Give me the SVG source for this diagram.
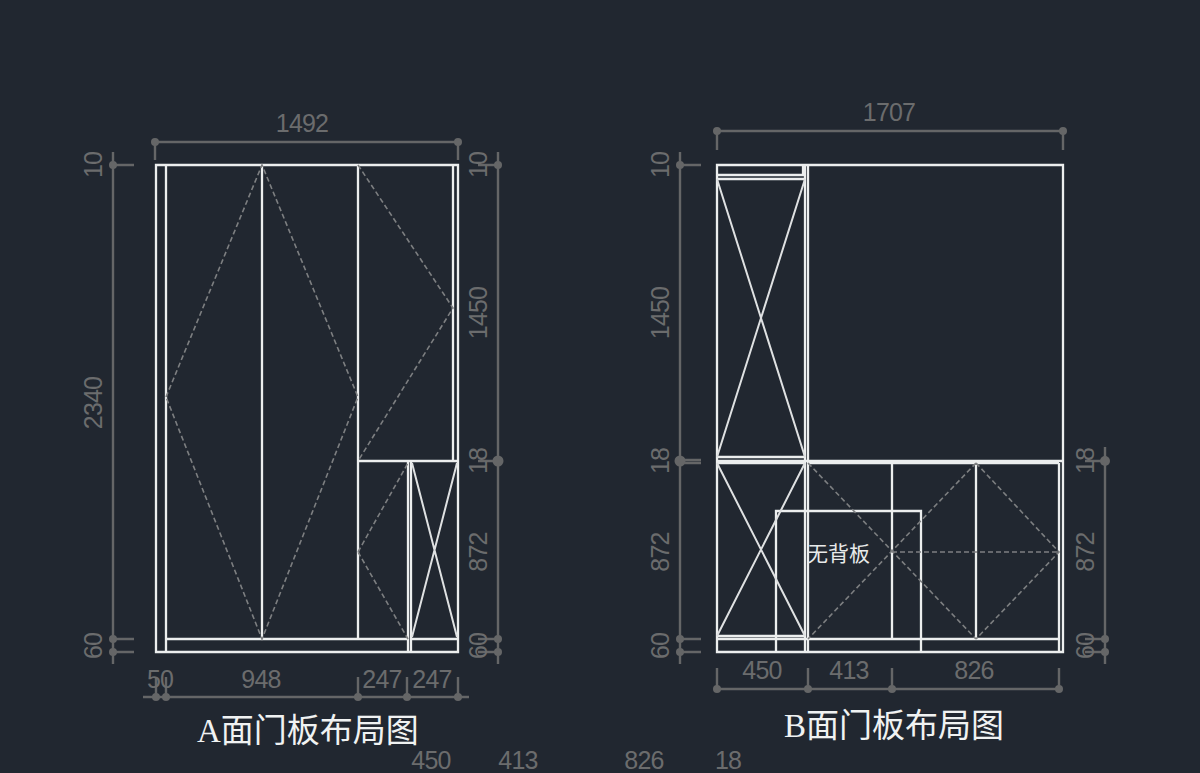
<svg xmlns="http://www.w3.org/2000/svg" width="1200" height="773" viewBox="0 0 1200 773">
<style>
.bg{fill:#212730}
.p{fill:none;stroke:#eceeee;stroke-width:2.3}
.x{fill:none;stroke:#dfe1e2;stroke-width:2}
.d{fill:none;stroke:#7d7f81;stroke-width:1.6;stroke-dasharray:5 3}
.m{fill:none;stroke:#656667;stroke-width:2.4}
.dot{fill:#656667}
text{font-family:"Liberation Sans","Noto Sans CJK SC",sans-serif}
.t{font-size:25px;letter-spacing:-.8px;fill:#6b6c6d;text-anchor:middle;dominant-baseline:central}
.title{font-family:"Liberation Serif","Noto Sans CJK SC",serif;font-size:33px;fill:#f0f2f2}
.note{font-family:"Noto Sans CJK SC",sans-serif;font-size:21px;fill:#e8eaea}
</style>
<rect class="bg" width="1200" height="773"/>
<g id="panel-a">
<path class="p" d="M156 165H458V652H156ZM166 165V652M166 639H408M166 652H408M262 165V639M358 165V639M453 165V461M358 461H458M408 461V652M411 461V652M411 639H458"/>
<path class="x" d="M412 463L457 637M457 463L412 637"/>
<path class="d" d="M166 397L262 165L358 397L262 639ZM358 165L453 308L358 461M358 552L408 463M358 552L408 639"/>
</g>
<g id="panel-b">
<path class="p" d="M717 165H1063V652H717ZM803 165V176M805 165V652M808 165V652M717 175H805M717 179H805M717 457H805M717 461H1063M717 463H805M717 636H805M717 639H1059M892 463V639M976 463V639M1059 463V652M808 463H1059"/>
<path class="p" d="M776 652V511H921V652"/>
<path class="x" d="M717 179L805 457M805 179L717 457M717 463L805 636M805 463L717 636"/>
<path class="d" d="M808 463L976 639M976 463L808 639M976 463L1059 552L976 639M892 552H1059"/>
</g>
<g id="connectors">
<path class="m" d="M155 142H458M155 142V160M458 142V160M113 152V664M113 165H134M113 639H134M113 652H134M498 152V664M478 165H498M478 461H498M478 639H498M478 652H498M143 697H469M156 677V697M166 677V697M358 677V697M407 677V697M458 677V697"/>
<path class="m" d="M717 131H1063M717 131V150M1063 131V150M680 152V664M680 165H701M680 460H701M680 463H701M680 639H701M680 652H701M1105 447V664M1085 461H1105M1085 639H1105M1085 652H1105M717 689H1060M717 668V689M808 668V689M892 668V689M1059 668V689"/>
<g class="dot">
<circle cx="155" cy="142" r="4"/><circle cx="458" cy="142" r="4"/><circle cx="113" cy="165" r="4"/><circle cx="113" cy="639" r="4"/><circle cx="113" cy="652" r="4"/><circle cx="498" cy="165" r="4"/><circle cx="498" cy="461" r="5.5"/><circle cx="498" cy="639" r="4"/><circle cx="498" cy="652" r="4"/><circle cx="156" cy="697" r="4"/><circle cx="166" cy="697" r="4"/><circle cx="358" cy="697" r="4"/><circle cx="407" cy="697" r="4"/><circle cx="458" cy="697" r="4"/>
<circle cx="717" cy="131" r="4"/><circle cx="1063" cy="131" r="4"/><circle cx="680" cy="165" r="4"/><circle cx="680" cy="461" r="5.5"/><circle cx="680" cy="639" r="4"/><circle cx="680" cy="652" r="4"/><circle cx="1105" cy="461" r="5"/><circle cx="1105" cy="639" r="4"/><circle cx="1105" cy="652" r="4"/><circle cx="717" cy="689" r="4"/><circle cx="808" cy="689" r="4"/><circle cx="892" cy="689" r="4"/><circle cx="1059" cy="689" r="4"/>
</g>
</g>
<g id="labels">
<text class="t" x="302" y="123">1492</text>
<text class="t" transform="translate(93 165) rotate(-90)">10</text>
<text class="t" transform="translate(93 403) rotate(-90)">2340</text>
<text class="t" transform="translate(93 646) rotate(-90)">60</text>
<text class="t" transform="translate(478 165) rotate(-90)">10</text>
<text class="t" transform="translate(478 313) rotate(-90)">1450</text>
<text class="t" transform="translate(478 461) rotate(-90)">18</text>
<text class="t" transform="translate(478 552) rotate(-90)">872</text>
<text class="t" transform="translate(478 646) rotate(-90)">60</text>
<text class="t" x="160" y="679">50</text>
<text class="t" x="261" y="679">948</text>
<text class="t" x="382" y="679">247</text>
<text class="t" x="432" y="679">247</text>
<text class="t" x="889" y="112">1707</text>
<text class="t" transform="translate(660 165) rotate(-90)">10</text>
<text class="t" transform="translate(660 313) rotate(-90)">1450</text>
<text class="t" transform="translate(660 461) rotate(-90)">18</text>
<text class="t" transform="translate(660 552) rotate(-90)">872</text>
<text class="t" transform="translate(660 646) rotate(-90)">60</text>
<text class="t" transform="translate(1085 461) rotate(-90)">18</text>
<text class="t" transform="translate(1085 552) rotate(-90)">872</text>
<text class="t" transform="translate(1085 646) rotate(-90)">60</text>
<text class="t" x="762" y="670">450</text>
<text class="t" x="849" y="670">413</text>
<text class="t" x="974" y="670">826</text>
<text class="t" x="431" y="760">450</text>
<text class="t" x="518" y="760">413</text>
<text class="t" x="644" y="760">826</text>
<text class="t" x="728" y="760">18</text>
<text class="title" x="197" y="742">A面门板布局图</text>
<text class="title" x="784" y="737">B面门板布局图</text>
<text class="note" x="807" y="561">无背板</text>
</g>
</svg>
